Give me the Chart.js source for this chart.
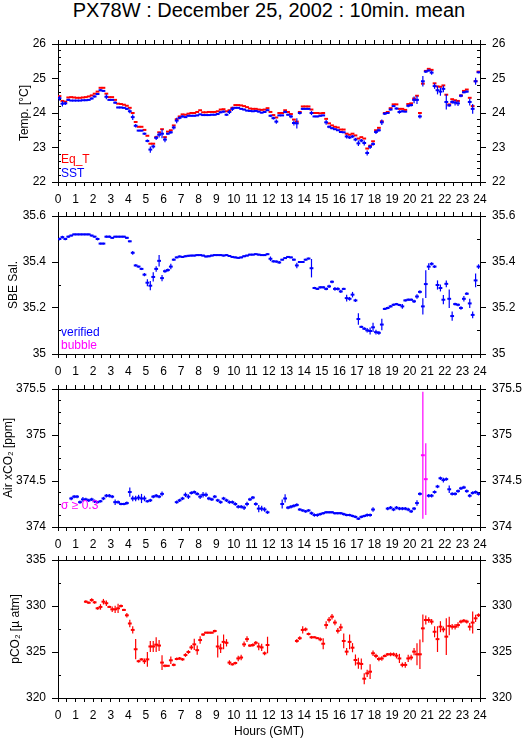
<!DOCTYPE html>
<html>
<head>
<meta charset="utf-8">
<script src="https://cdn.jsdelivr.net/npm/chart.js@4.4.0/dist/chart.umd.min.js"></script>
<style>
  body { margin: 0; background: #fff; width: 529px; height: 739px; position: relative; overflow: hidden;
         font-family: "Liberation Sans", Arial, sans-serif; }
  #title { position: absolute; left: 58px; width: 422px; top: 0; text-align: center;
           font-size: 20px; line-height: 20px; color: #000; white-space: nowrap; }
  canvas { position: absolute; left: 0; }
</style>
</head>
<body>
<div id="title">PX78W : December 25, 2002 : 10min. mean</div>
<canvas id="tempChart" width="529" height="182" style="top:30px"></canvas>
<canvas id="salChart" width="529" height="182" style="top:202px"></canvas>
<canvas id="airChart" width="529" height="182" style="top:375px"></canvas>
<canvas id="pco2Chart" width="529" height="193" style="top:546px"></canvas>
<script>
// --- Data: one value per 10-minute slot (6 per hour, 144 per day) ---
const hourTicks = [0, 1, 2, 3, 4, 5, 6, 7, 8, 9, 10, 11, 12, 13, 14, 15, 16, 17, 18, 19, 20, 21, 22, 23, 24];

const eqT = [
  24.49, 24.35, 24.33, 24.45, 24.46, 24.45,
  24.44, 24.44, 24.45, 24.46, 24.48, 24.51,
  24.56, 24.62, 24.73, 24.73, 24.56, 24.46,
  24.46, 24.38, 24.27, 24.26, 24.24, 24.21,
  24.15, 24.00, 23.74, 23.60, 23.60, 23.51,
  23.34, 23.11, 23.11, 23.30, 23.44, 23.53,
  23.30, 23.46, 23.50, 23.64, 23.82, 23.90,
  23.96, 23.95, 23.98, 24.00, 24.00, 24.03,
  24.08, 24.02, 24.02, 24.03, 24.03, 24.03,
  24.05, 24.10, 24.11, 24.05, 24.08, 24.15,
  24.23, 24.23, 24.22, 24.20, 24.17, 24.13,
  24.12, 24.12, 24.10, 24.09, 24.10, 24.14,
  24.03, 23.94, 23.87, 24.00, 24.00, 24.08,
  24.03, 23.97, 23.81, 23.75, 24.03, 24.19,
  24.19, 24.19, 24.10, 24.00, 24.00, 23.99,
  24.00, 23.83, 23.70, 23.64, 23.60, 23.58,
  23.52, 23.52, 23.40, 23.37, 23.40, 23.35,
  23.26, 23.30, 23.26, 22.97, 23.05, 23.18,
  23.50, 23.57, 23.76, 24.00, 24.03, 24.14,
  24.25, 24.25, 24.12, 24.12, 24.09, 24.26,
  24.28, 24.42, 24.50, 24.00, 24.85, 25.22,
  25.28, 25.25, 24.86, 24.77, 24.76, 24.80,
  24.53, 24.25, 24.40, 24.37, 24.35, 24.51,
  24.64, 24.68, 24.44, 24.20, 24.92, 25.20
];

const sst = [
  24.43, 24.27, 24.28, 24.38, 24.36, 24.36,
  24.36, 24.36, 24.37, 24.37, 24.38, 24.42,
  24.48, 24.55, 24.66, 24.64, 24.47, 24.38,
  24.38, 24.30, 24.16, 24.16, 24.15, 24.12,
  24.05, 23.88, 23.63, 23.49, 23.49, 23.40,
  23.19, 22.94, 23.03, 23.28, 23.37, 23.40,
  23.23, 23.40, 23.44, 23.58, 23.78, 23.86,
  23.90, 23.88, 23.92, 23.92, 23.92, 23.93,
  23.96, 23.94, 23.94, 23.94, 23.95, 23.95,
  23.97, 24.02, 24.04, 23.95, 24.03, 24.12,
  24.15, 24.15, 24.12, 24.10, 24.07, 24.06,
  24.05, 24.06, 24.04, 24.01, 24.03, 24.08,
  23.92, 23.85, 23.75, 23.93, 23.93, 24.03,
  23.95, 23.90, 23.71, 23.70, 24.00, 24.12,
  24.12, 24.12, 24.00, 23.90, 23.90, 23.92,
  23.93, 23.73, 23.60, 23.56, 23.53, 23.50,
  23.45, 23.44, 23.32, 23.29, 23.32, 23.23,
  23.12, 23.20, 23.13, 22.84, 23.02, 23.10,
  23.45, 23.50, 23.73, 23.98, 24.00, 24.10,
  24.20, 24.13, 24.03, 24.05, 24.04, 24.21,
  24.23, 24.38, 24.38, 23.90, 24.92, 25.20,
  25.23, 25.17, 24.78, 24.66, 24.62, 24.70,
  24.32, 24.22, 24.32, 24.30, 24.28, 24.50,
  24.60, 24.62, 24.32, 24.12, 24.92, 25.18
];

const sstErr = [
  .07, .08, .05, .03, .01, .01,
  .01, .01, .01, .02, .02, .03,
  .03, .03, .03, .02, .07, .02,
  .02, .03, .02, .02, .02, .03,
  .06, .08, .05, .02, .02, .03,
  .04, .09, .06, .06, .08, .13,
  .08, .03, .04, .06, .08, .04,
  .03, .02, .02, .02, .02, .02,
  .02, .02, .02, .02, .02, .02,
  .02, .03, .03, .03, .06, .06,
  .02, .02, .02, .02, .02, .02,
  .02, .02, .02, .02, .03, .02,
  .03, .04, .06, .02, .02, .04,
  .03, .05, .07, .15, .04, .03,
  .02, .02, .06, .02, .02, .02,
  .02, .07, .04, .03, .02, .02,
  .02, .02, .06, .04, .04, .05,
  .08, .05, .07, .07, .06, .05,
  .06, .04, .08, .04, .03, .03,
  .02, .03, .05, .03, .02, .04,
  .04, .10, .12, .06, .15, .04,
  .03, .06, .08, .12, .12, .10,
  .22, .04, .05, .08, .08, .04,
  .03, .03, .10, .14, .10, .03
];

const salinity = [
  35.500, 35.508, 35.500, 35.510, 35.515, 35.520,
  35.520, 35.520, 35.520, 35.520, 35.520, 35.515,
  35.510, 35.500, 35.480, 35.480, 35.510, 35.510,
  35.505, 35.510, 35.510, 35.510, 35.510, 35.505,
  35.490, 35.440, 35.385, 35.380, 35.370, 35.345,
  35.310, 35.297, 35.335, 35.370, 35.405, 35.330,
  35.360, 35.365, 35.380, 35.410, 35.420, 35.424,
  35.422, 35.425, 35.427, 35.428, 35.428, 35.430,
  35.430, 35.428, 35.424, 35.425, 35.428, 35.430,
  35.430, 35.430, 35.428, 35.430, 35.426, 35.422,
  35.420, 35.418, 35.420, 35.425, 35.428, 35.432,
  35.432, 35.434, 35.432, 35.430, 35.430, 35.434,
  35.414, 35.403, 35.402, 35.398, 35.410, 35.417,
  35.422, 35.420, 35.410, 35.385, 35.400, 35.400,
  35.410, 35.415, 35.373, 35.287, 35.283, 35.290,
  35.290, 35.283, 35.294, 35.314, 35.283, 35.283,
  35.272, 35.283, 35.243, 35.240, 35.258, 35.233,
  35.152, 35.118, 35.110, 35.103, 35.100, 35.116,
  35.095, 35.092, 35.128, 35.196, 35.200, 35.207,
  35.214, 35.217, 35.213, 35.207, 35.233, 35.236,
  35.236, 35.229, 35.250, 35.270, 35.207, 35.304,
  35.380, 35.392, 35.380, 35.300, 35.287, 35.236,
  35.305, 35.240, 35.165, 35.217, 35.214, 35.200,
  35.240, 35.262, 35.220, 35.170, 35.320, 35.380
];

const salinityErr = [
  .006, .006, .005, .005, .004, .004,
  .004, .004, .004, .004, .004, .004,
  .004, .006, .004, .004, .005, .005,
  .004, .004, .004, .004, .004, .005,
  .004, .008, .005, .004, .005, .007,
  .015, .020, .020, .012, .025, .014,
  .007, .007, .012, .005, .004, .004,
  .004, .004, .004, .004, .004, .004,
  .004, .004, .004, .004, .004, .004,
  .004, .004, .004, .004, .004, .004,
  .004, .004, .004, .004, .004, .004,
  .004, .004, .004, .004, .004, .004,
  .010, .005, .005, .006, .004, .004,
  .004, .004, .005, .012, .004, .004,
  .004, .004, .040, .005, .005, .005,
  .005, .006, .007, .006, .008, .007,
  .007, .005, .015, .008, .012, .007,
  .025, .005, .006, .010, .015, .020,
  .010, .008, .025, .005, .005, .005,
  .005, .005, .005, .010, .005, .005,
  .005, .007, .010, .007, .035, .060,
  .015, .007, .006, .020, .015, .020,
  .015, .040, .020, .006, .006, .008,
  .012, .006, .020, .015, .030, .010
];

const airCO2 = [
  null, null, null, null, 374.31, 374.33,
  374.33, 374.27, 374.30, 374.30, 374.29, 374.30,
  374.28, 374.27, 374.28, 374.31, 374.34, 374.34,
  374.33, 374.27, 374.27, 374.25, 374.25, 374.26,
  374.38, 374.31, 374.31, 374.32, 374.31, 374.31,
  374.28, 374.29, 374.33, 374.34, 374.33, 374.36,
  null, null, null, null, 374.27, 374.29,
  374.31, 374.35, 374.33, 374.37, 374.38, 374.36,
  374.33, 374.35, 374.35, 374.31, 374.30, 374.33,
  374.29, 374.27, 374.31, 374.29, 374.27, 374.27,
  374.25, 374.22, 374.22, 374.21, 374.25, 374.30,
  374.32, 374.25, 374.20, 374.20, 374.19, 374.16,
  null, null, null, null, 374.25, 374.31,
  374.21, 374.22, 374.23, 374.24, 374.19, 374.18,
  374.17, 374.18, 374.15, 374.13, 374.13, 374.14,
  374.15, 374.16, 374.16, 374.16, 374.15, 374.15,
  374.15, 374.14, 374.13, 374.13, 374.12, 374.11,
  374.09, 374.11, 374.12, 374.13, 374.13, 374.19,
  null, null, null, null, 374.20, 374.21,
  374.19, 374.21, 374.20, 374.20, 374.20, 374.19,
  374.17, 374.20, 374.26, 374.36, null, null,
  374.34, 374.34, 374.38, 374.44, 374.53, 374.51,
  374.52, 374.41, 374.36, 374.36, 374.39, 374.42,
  374.43, 374.39, 374.34, 374.37, 374.38, 374.36
];

const airCO2Err = [
  0, 0, 0, 0, .018, .018,
  .018, .018, .025, .018, .018, .018,
  .018, .014, .014, .018, .018, .018,
  .018, .030, .018, .014, .014, .018,
  .050, .030, .030, .030, .050, .030,
  .014, .018, .018, .018, .018, .025,
  0, 0, 0, 0, .018, .018,
  .018, .025, .025, .018, .018, .018,
  .025, .030, .025, .018, .018, .018,
  .018, .018, .018, .018, .018, .018,
  .018, .018, .018, .025, .025, .018,
  .018, .018, .040, .030, .025, .018,
  0, 0, 0, 0, .050, .045,
  .018, .018, .018, .018, .014, .014,
  .014, .014, .018, .018, .018, .014,
  .014, .014, .014, .014, .014, .014,
  .014, .014, .014, .014, .014, .014,
  .014, .014, .014, .018, .018, .025,
  0, 0, 0, 0, .018, .018,
  .018, .018, .018, .018, .018, .018,
  .018, .018, .030, .018, 0, 0,
  .018, .018, .018, .018, .018, .025,
  .018, .040, .018, .018, .018, .018,
  .018, .018, .018, .018, .018, .018
];

// slots flagged with sigma >= 0.3
const flaggedSlots = [124, 125];
const flaggedCO2 = [374.78, 374.52];
const flaggedErr = [0.69, 0.39];

const pCO2 = [
  null, null, null, null, null, null,
  null, null, null, 330.47, 330.36, 330.65,
  330.40, 329.75, 329.90, 330.47, 330.30, 329.90,
  329.64, 329.64, 329.75, 330.00, 329.57, 328.99,
  328.10, 327.40, 325.30, 324.00, 324.20, 324.00,
  324.20, 325.60, 325.60, 325.80, 325.70, 323.85,
  323.50, 323.50, 324.10, 323.60, 324.24, 324.30,
  324.20, 324.67, 325.00, 325.50, 325.83, 325.20,
  326.30, 326.90, 327.10, 327.10, 327.10, 327.28,
  325.60, 325.40, 326.10, 326.00, 323.85, 323.66,
  323.80, 324.30, 324.40, 325.83, 326.40, 325.70,
  325.76, 326.00, 325.60, 325.50, 324.86, 325.76,
  null, null, null, null, null, null,
  null, null, null, 326.20, 326.50, 327.40,
  327.46, 326.96, 326.60, 326.60, 326.50, 326.37,
  325.90, 327.93, 328.50, 328.84, 328.20, 327.30,
  327.68, 326.20, 325.04, 326.10, 325.47, 324.13,
  323.77, 323.70, 322.10, 322.68, 322.86, 324.86,
  324.57, 324.24, 324.30, 324.57, 324.75, 324.75,
  324.75, 324.60, 324.30, 323.60, 323.60, 324.30,
  324.40, 325.04, 324.75, 324.75, 327.57, 328.48,
  328.48, 328.30, 327.20, 326.40, 327.75, 327.46,
  326.67, 327.83, 327.75, 327.75, 327.93, 328.30,
  328.40, 328.30, 327.75, 328.20, 328.66, 329.00
];

const pCO2Err = [
  0, 0, 0, 0, 0, 0,
  0, 0, 0, .15, .12, .20,
  .15, .15, .30, .30, .30, .12,
  .30, .40, .50, .15, .12, .25,
  .40, .40, 1.1, .15, .12, .30,
  .80, .60, .60, .80, .60, .80,
  .15, .10, .40, .15, .15, .15,
  .15, .20, .20, .25, .60, .50,
  .40, .15, .10, .10, .10, .15,
  1.2, .50, .80, .40, .25, .12,
  .15, .30, .30, .30, .30, .15,
  .20, .20, .40, .40, .20, .90,
  0, 0, 0, 0, 0, 0,
  0, 0, 0, .20, .20, .40,
  .20, .15, .15, .10, .10, .20,
  .60, .40, .30, .30, .30, .30,
  .40, .80, .40, .80, .50, .60,
  .60, .60, .60, .40, .80, .30,
  .25, .25, .25, .15, .15, .20,
  .20, .30, .50, .25, .30, .40,
  .30, .40, 1.2, 1.6, 1.5, .50,
  .30, .30, .60, 1.4, .60, .30,
  2.0, 1.0, .30, .30, .30, .20,
  .20, .20, .40, 1.2, .40, .20
];

const tempTicks = [22, 23, 24, 25, 26];
const salTicks = [35, 35.2, 35.4, 35.6];
const airTicks = [374, 374.5, 375, 375.5];
const pco2Ticks = [320, 325, 330, 335];

// --- Helpers ---
const RED = '#ff0000', BLUE = '#0000ff', MAGENTA = '#ff00ff';
const CLEAR = 'rgba(0,0,0,0)';
const SLOT = 1 / 6; // 10 minutes in hours
const slotMid = i => (i + 0.5) * SLOT;

Chart.defaults.font.family = '"Liberation Sans", Arial, sans-serif';
Chart.defaults.font.size = 12;
Chart.defaults.color = '#000';

function toPoints(values) {
    const out = [];
    values.forEach((v, i) => { if (v !== null) out.push({ x: slotMid(i), y: v }); });
    return out;
}

function toBars(values, sd) {
    const out = [];
    values.forEach((v, i) => { if (v !== null) out.push({ x: slotMid(i), y: [v - sd[i], v + sd[i]] }); });
    return out;
}

// horizontal 10-min tick for each mean
function meanMarks(data, color, order) {
    return {
        type: 'scatter', data, order, showLine: false,
        pointStyle: 'line', pointRadius: 1.9, pointBorderWidth: 2,
        pointBorderColor: color, borderColor: color, backgroundColor: color
    };
}

// vertical standard deviation bar
function sdBars(data, color, order) {
    return {
        type: 'bar', data, order, grouped: false,
        backgroundColor: color, borderWidth: 0, barThickness: 1.2, inflateAmount: 0
    };
}

const isTick = (v, list) => list.some(t => Math.abs(t - v) < 1e-6);

function xAxis(position, showLabels, title, height) {
    return {
        type: 'linear', position, min: 0, max: 24, offset: false,
        ticks: {
            display: showLabels, stepSize: 0.5, autoSkip: false, maxRotation: 0, padding: 6,
            callback: v => isTick(v, hourTicks) ? String(v) : ''
        },
        grid: { offset: false, drawOnChartArea: false, drawTicks: true, tickLength: 4, color: '#000' },
        border: { display: true, color: '#000' },
        title: { display: !!title, text: title || '', padding: 0 },
        afterFit: s => { s.height = height; }
    };
}

// labelled axis: only the major ticks, pointing outward
function yAxis(position, p) {
    return {
        type: 'linear', position, min: p.min, max: p.max, beginAtZero: false, weight: 1,
        ticks: {
            stepSize: p.minor, autoSkip: false, padding: 6,
            callback: v => isTick(v, p.ticks) ? String(Math.round(v * 1000) / 1000) : ''
        },
        grid: {
            drawOnChartArea: false, drawTicks: true, tickLength: 6, color: '#000',
            tickColor: c => isTick(c.tick.value, p.ticks) ? '#000' : CLEAR
        },
        border: { display: true, color: '#000' },
        title: position === 'left'
            ? { display: true, text: p.title, padding: { top: p.titlePad, bottom: 0 } }
            : { display: false },
        afterFit: s => { s.width = position === 'left' ? 58 : 49; }
    };
}

// zero-width axis next to the plot: minor ticks pointing inward
function yMinorAxis(position, p) {
    return {
        type: 'linear', position, min: p.min, max: p.max, beginAtZero: false, weight: 0,
        ticks: { display: false, stepSize: p.minor, autoSkip: false },
        grid: {
            drawOnChartArea: false, drawTicks: true, tickLength: -3, color: '#000',
            tickColor: c => isTick(c.tick.value, p.ticks) ? CLEAR : '#000'
        },
        border: { display: false },
        title: { display: false },
        afterFit: s => { s.width = 0; }
    };
}

// small coloured notes in the lower-left corner of a panel
const notesPlugin = {
    id: 'notes',
    afterDraw(chart, args, opts) {
        const { ctx, chartArea } = chart;
        ctx.save();
        ctx.font = '12px "Liberation Sans", Arial, sans-serif';
        (opts.lines || []).forEach(n => {
            ctx.fillStyle = n.color;
            ctx.fillText(n.text, chartArea.left + 3, chartArea.bottom - n.up);
        });
        ctx.restore();
    }
};

function panel(id, p) {
    new Chart(document.getElementById(id), {
        type: 'scatter',
        data: { datasets: p.datasets },
        options: {
            responsive: false, animation: false, devicePixelRatio: 1, events: [],
            layout: { padding: 0 },
            plugins: { legend: { display: false }, tooltip: { enabled: false }, notes: { lines: p.notes } },
            scales: {
                x: xAxis('bottom', true, p.xTitle, p.xTitle ? 41 : 30),
                x2: xAxis('top', false, null, 14),
                y: yAxis('left', p),
                yIn: yMinorAxis('left', p),
                y2: yAxis('right', p),
                y2In: yMinorAxis('right', p)
            }
        },
        plugins: [notesPlugin]
    });
}

// --- Panels ---
panel('tempChart', {
    min: 22, max: 26, minor: 0.2, ticks: tempTicks, title: 'Temp. [°C]', titlePad: 17,
    datasets: [
        meanMarks(toPoints(eqT), RED, 3),
        sdBars(toBars(sst, sstErr), BLUE, 2),
        meanMarks(toPoints(sst), BLUE, 1)
    ],
    notes: [{ text: 'Eq_T', color: RED, up: 19 }, { text: 'SST', color: BLUE, up: 5 }]
});

panel('salChart', {
    min: 35, max: 35.6, minor: 0.1, ticks: salTicks, title: 'SBE Sal.', titlePad: 6,
    datasets: [
        sdBars(toBars(salinity, salinityErr), BLUE, 2),
        meanMarks(toPoints(salinity), BLUE, 1)
    ],
    notes: [{ text: 'verified', color: BLUE, up: 18 }, { text: 'bubble', color: MAGENTA, up: 5 }]
});

panel('airChart', {
    min: 374, max: 375.5, minor: 0.125, ticks: airTicks, title: 'Air xCO₂ [ppm]', titlePad: 1,
    datasets: [
        sdBars(toBars(airCO2, airCO2Err), BLUE, 4),
        meanMarks(toPoints(airCO2), BLUE, 3),
        sdBars(flaggedSlots.map((s, k) => ({ x: slotMid(s), y: [flaggedCO2[k] - flaggedErr[k], flaggedCO2[k] + flaggedErr[k]] })), MAGENTA, 2),
        meanMarks(flaggedSlots.map((s, k) => ({ x: slotMid(s), y: flaggedCO2[k] })), MAGENTA, 1)
    ],
    notes: [{ text: 'σ ≥ 0.3', color: MAGENTA, up: 18 }]
});

panel('pco2Chart', {
    min: 320, max: 335, minor: 2.5, ticks: pco2Ticks, title: 'pCO₂ [µ atm]', titlePad: 8,
    xTitle: 'Hours (GMT)',
    datasets: [
        sdBars(toBars(pCO2, pCO2Err), RED, 2),
        meanMarks(toPoints(pCO2), RED, 1)
    ],
    notes: []
});
</script>
</body>
</html>
